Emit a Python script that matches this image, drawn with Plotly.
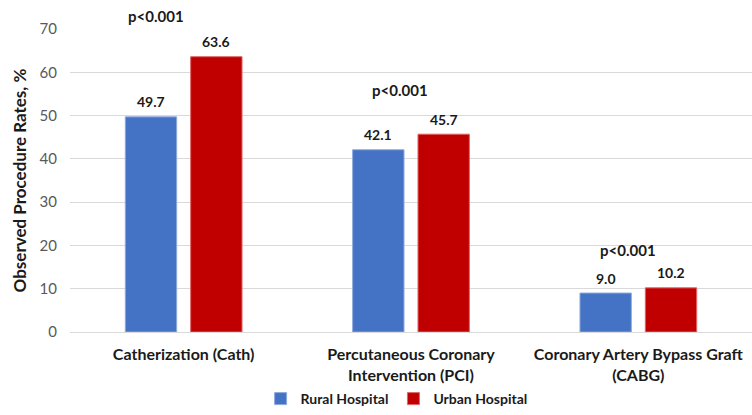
import plotly.graph_objects as go

categories = ["Catherization (Cath)",
              "Percutaneous Coronary<br>Intervention (PCI)",
              "Coronary Artery Bypass Graft<br>(CABG)"]
series_names = ["Rural Hospital", "Urban Hospital"]
rural = [49.7, 42.1, 9.0]
urban = [63.6, 45.7, 10.2]
p_labels = ["p<0.001", "p<0.001", "p<0.001"]
p_heights = [73.0, 56.0, 19.0]

FONT = "Lato, 'Open Sans', sans-serif"
Y_MAX = 70

# layout helpers: horizontal nudge of p-labels (category units) and bar offset in px
P_OFFSET = [-0.12, -0.05, -0.045]
BAR_SHIFT = 32.75

fig = go.Figure()
fig.add_trace(go.Bar(
    x=categories, y=rural, name=f"<b>{series_names[0]}</b>",
    marker=dict(color="#4472C4", line=dict(color="#8FAADC", width=1)),
))
fig.add_trace(go.Bar(
    x=categories, y=urban, name=f"<b>{series_names[1]}</b>",
    marker=dict(color="#C00000", line=dict(color="#E06666", width=1)),
))

# value labels above each bar
for values, shift in ((rural, -BAR_SHIFT), (urban, BAR_SHIFT)):
    for cat, v in zip(categories, values):
        fig.add_annotation(x=cat, y=v, xref="x", yref="y", text=f"<b>{v:.1f}</b>",
                           showarrow=False, xshift=shift, yshift=15, yanchor="middle",
                           font=dict(size=14, color="#1a1a1a", family=FONT))

# significance labels
for i, (lab, h) in enumerate(zip(p_labels, p_heights)):
    fig.add_annotation(x=i + P_OFFSET[i], y=h / Y_MAX, xref="x", yref="paper",
                       text=f"<b>{lab}</b>", showarrow=False, yanchor="middle",
                       font=dict(size=15, color="#1a1a1a", family=FONT))

fig.update_layout(
    width=752, height=415,
    margin=dict(l=70, r=0, t=29, b=82),
    paper_bgcolor="white", plot_bgcolor="white",
    barmode="group", bargap=0.425, bargroupgap=0.214,
    font=dict(family=FONT, color="#1a1a1a"),
    showlegend=True,
    legend=dict(orientation="h", x=0.2795, xanchor="left", y=-0.222, yanchor="middle",
                bgcolor="rgba(0,0,0,0)",
                font=dict(size=14, color="#1a1a1a", family=FONT),
                itemwidth=30, tracegroupgap=0),
    yaxis=dict(range=[0, Y_MAX], dtick=10, showgrid=True, gridcolor="#d9d9d9", gridwidth=1,
               zeroline=False, showline=False, ticks="",
               tickfont=dict(size=15, color="#595959", family=FONT),
               ticklabelstandoff=12,
               title=dict(text="<b>Observed Procedure Rates, %</b>",
                          font=dict(size=17, color="#1a1a1a", family=FONT), standoff=8)),
    xaxis=dict(showgrid=False, showline=True, linecolor="#d9d9d9", ticks="",
               tickfont=dict(size=16, color="#1a1a1a", family=FONT, weight="bold"),
               ticklabelstandoff=8),
)

fig.write_html("out.html")
